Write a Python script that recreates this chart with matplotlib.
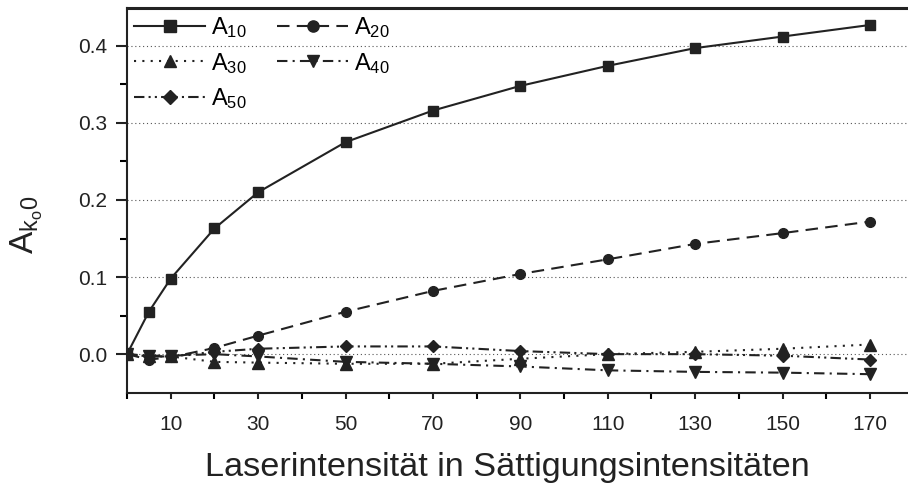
import numpy as np
import matplotlib
matplotlib.use('Agg')
import matplotlib.pyplot as plt
from matplotlib.ticker import FixedLocator

plt.rcParams['font.family'] = ['Liberation Sans', 'DejaVu Sans']
plt.rcParams['mathtext.fontset'] = 'custom'
plt.rcParams['mathtext.rm'] = 'Liberation Sans'
plt.rcParams['mathtext.it'] = 'Liberation Sans'

# Intensität (in Sättigungsintensitäten)
intensity = [0, 5, 10, 20, 30, 50, 70, 90, 110, 130, 150, 170]

a10 = [0.0, 0.055, 0.098, 0.163, 0.210, 0.275, 0.316, 0.348, 0.374, 0.397, 0.412, 0.427]
a20 = [0.0, -0.007, -0.004, 0.008, 0.024, 0.055, 0.082, 0.104, 0.123, 0.143, 0.157, 0.172]
a30 = [0.0, -0.003, -0.003, -0.010, -0.011, -0.0125, -0.0125, -0.006, 0.0, 0.003, 0.007, 0.0125]
a40 = [0.0, -0.002, -0.002, 0.0, -0.003, -0.010, -0.0125, -0.016, -0.021, -0.023, -0.024, -0.026]
a50 = [0.0, -0.003, -0.003, 0.003, 0.007, 0.010, 0.010, 0.004, 0.0, 0.0, -0.002, -0.007]

fig = plt.figure(figsize=(9.08, 4.86), dpi=100)
ax = fig.add_axes([0.1399, 0.192, 0.8601, 0.7915])

lw = 1.5
ms = 7
c = '#222222'
l10, = ax.plot(intensity, a10, color=c, lw=lw, ls='-', marker='s', ms=ms)
l20, = ax.plot(intensity, a20, color=c, lw=lw, ls=(0, (6, 3.5)), marker='o', ms=ms)
l30, = ax.plot(intensity, a30, color=c, lw=lw, ls=(0, (1, 3)), marker='^', ms=ms + 1)
l40, = ax.plot(intensity, a40, color=c, lw=lw, ls=(0, (5, 2.5, 1, 2.5)), marker='v', ms=ms + 1)
l50, = ax.plot(intensity, a50, color=c, lw=lw, ls=(0, (5, 2, 1, 2, 1, 2)), marker='D', ms=ms - 0.5)

for yv in [0.0, 0.1, 0.2, 0.3, 0.4]:
    ax.axhline(yv, color='#555555', lw=0.8, ls=(0, (1, 2.5)), zorder=0)

ax.set_xlim(0, 178.7)
ax.set_ylim(-0.05, 0.449)

ax.xaxis.set_major_locator(FixedLocator([10, 30, 50, 70, 90, 110, 130, 150, 170]))
ax.xaxis.set_minor_locator(FixedLocator([0, 20, 40, 60, 80, 100, 120, 140, 160]))
ax.yaxis.set_major_locator(FixedLocator([0.0, 0.1, 0.2, 0.3, 0.4]))
ax.yaxis.set_minor_locator(FixedLocator([0.05, 0.15, 0.25, 0.35]))
ax.set_yticklabels(['0.0', '0.1', '0.2', '0.3', '0.4'])

ax.tick_params(axis='both', which='major', labelsize=15, colors=c, width=1.5)
ax.tick_params(axis='x', which='both', direction='out', length=4, width=1.5)
ax.tick_params(axis='x', which='major', pad=12)
ax.tick_params(axis='y', which='major', direction='out', length=8, width=1.5, pad=6)
ax.tick_params(axis='y', which='minor', direction='out', length=5, width=1.5)

for s in ['left', 'bottom', 'top']:
    ax.spines[s].set_linewidth(1.5)
    ax.spines[s].set_color(c)
ax.spines['top'].set_linewidth(2.2)
ax.spines['right'].set_visible(False)

ax.set_xlabel('Laserintensität in Sättigungsintensitäten', fontsize=24.7, color=c)
ax.xaxis.set_label_coords(0.487, -0.155)
ax.set_ylabel(r'$\mathrm{A}_{\mathrm{k_o0}}$', fontsize=24, color=c)
ax.yaxis.set_label_coords(-0.105, 0.436)

leg = ax.legend([l10, l30, l50, l20, l40],
                [r'$\mathrm{A}_{10}$', r'$\mathrm{A}_{30}$', r'$\mathrm{A}_{50}$',
                 r'$\mathrm{A}_{20}$', r'$\mathrm{A}_{40}$'],
                ncol=2, loc='upper left', frameon=False, fontsize=17,
                handlelength=3.0, handletextpad=0.25, columnspacing=1.3,
                labelspacing=0.45, borderaxespad=0.1, borderpad=0.2,
                markerscale=1.15)

fig.savefig('out.png', dpi=100)
